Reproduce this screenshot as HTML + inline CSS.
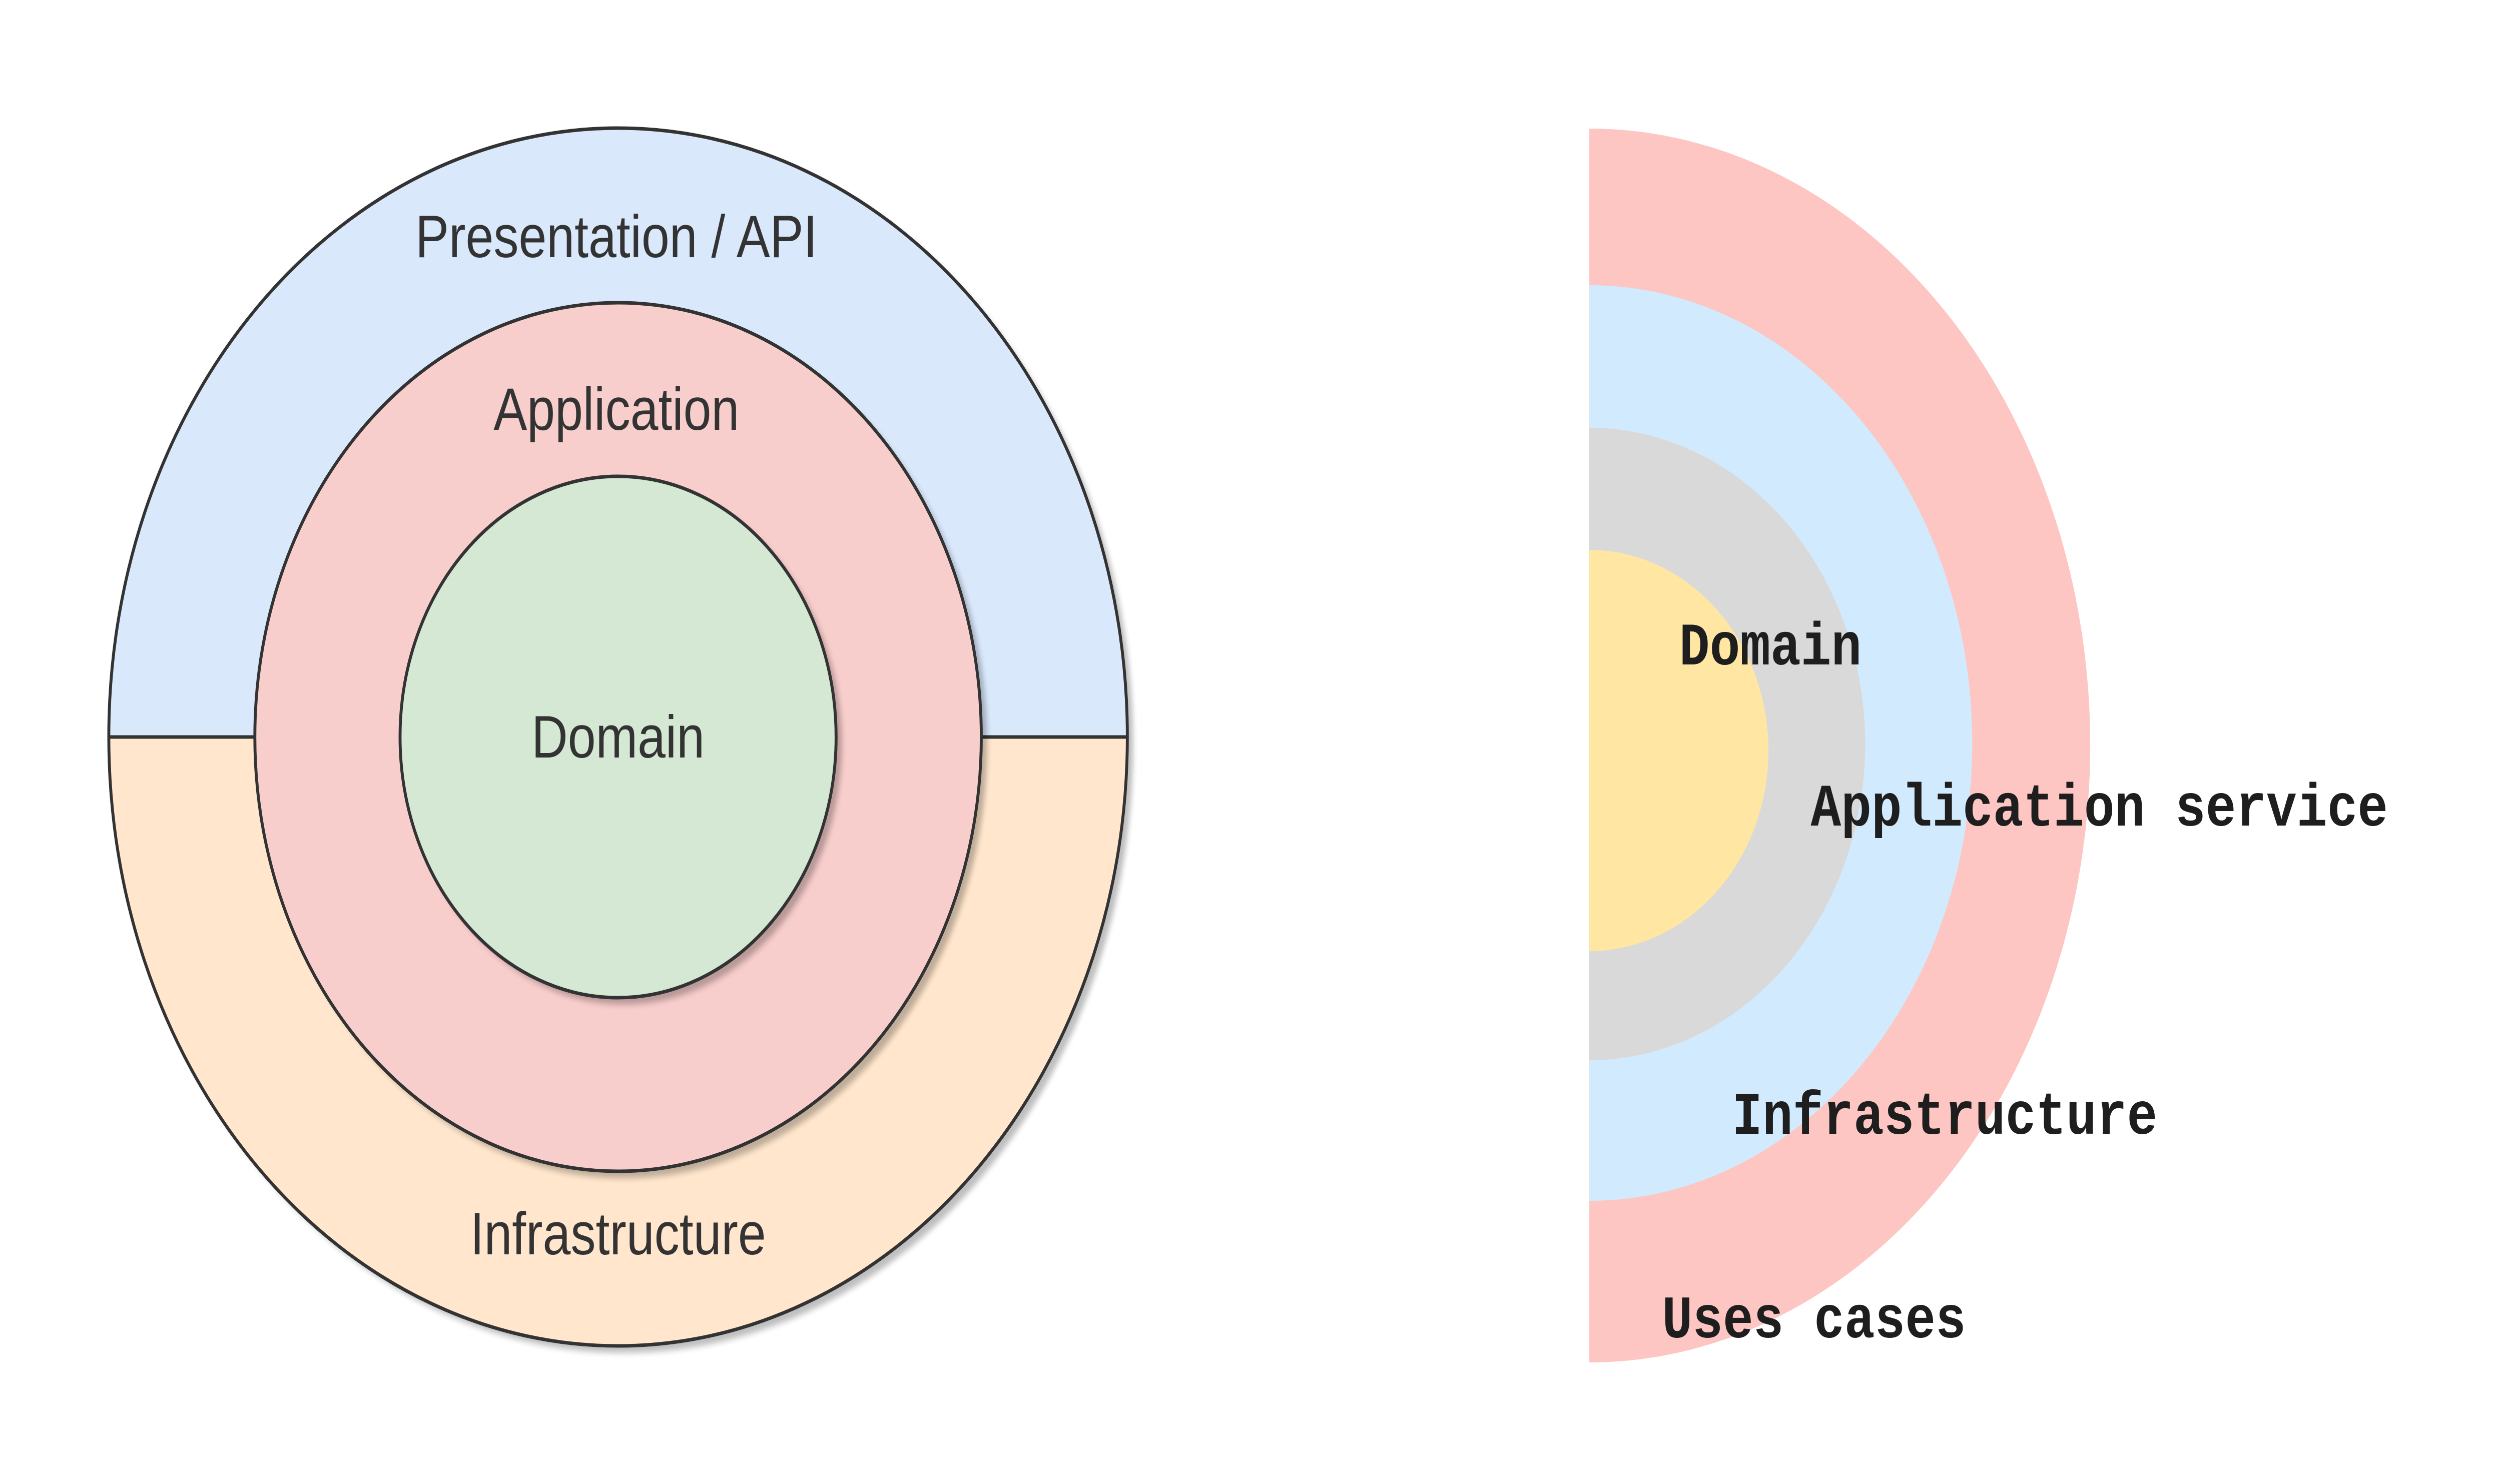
<!DOCTYPE html>
<html><head><meta charset="utf-8"><style>
html,body{margin:0;padding:0;background:#fff;width:100%;height:100%;overflow:hidden;}
svg{display:block;width:100vw;height:100vh;}
</style></head><body>
<svg viewBox="0 0 5979 2966" preserveAspectRatio="none" xmlns="http://www.w3.org/2000/svg">
<defs>
<filter id="sh" x="-10%" y="-10%" width="130%" height="130%"><feGaussianBlur stdDeviation="6"/></filter>
<clipPath id="rc"><rect x="3798" y="0" width="2200" height="2966"/></clipPath>
</defs>
<rect width="5979" height="2966" fill="#fff"/>
<circle cx="1491" cy="1487" r="1217" fill="#000" opacity="0.25" filter="url(#sh)"/>
<circle cx="1477" cy="1473" r="1217" fill="#ffe6cc"/>
<path d="M260 1473 A1217 1217 0 0 1 2694 1473 Z" fill="#dae8fc"/>
<circle cx="1477" cy="1473" r="1217" fill="none" stroke="#333" stroke-width="7"/>
<line x1="260" y1="1473" x2="2694" y2="1473" stroke="#333" stroke-width="7"/>
<circle cx="1491" cy="1487" r="868" fill="#000" opacity="0.25" filter="url(#sh)"/>
<circle cx="1477" cy="1473" r="868" fill="#f8cecc" stroke="#333" stroke-width="7"/>
<circle cx="1491" cy="1487" r="521" fill="#000" opacity="0.25" filter="url(#sh)"/>
<circle cx="1477" cy="1473" r="521" fill="#d5e8d4" stroke="#333" stroke-width="7"/>
<g font-family="'Liberation Sans', Arial, sans-serif" font-size="120" fill="#333" text-anchor="middle">
<text x="1473" y="514">Presentation / API</text>
<text x="1473" y="859">Application</text>
<text x="1477" y="1514">Domain</text>
<text x="1477" y="2507">Infrastructure</text>
</g>
<g clip-path="url(#rc)">
<ellipse cx="3798" cy="1490" rx="1197" ry="1233" fill="#fec6c2"/>
<ellipse cx="3798" cy="1485" rx="915" ry="915" fill="#d1eafd"/>
<ellipse cx="3798" cy="1487" rx="659" ry="632" fill="#d9d9d9"/>
<ellipse cx="3798" cy="1500" rx="428" ry="401" fill="#ffe6a3"/>
</g>
<g font-family="'Liberation Mono', 'DejaVu Sans Mono', monospace" font-size="121" font-weight="bold" fill="#1e1e1e">
<text x="4013" y="1328">Domain</text>
<text x="4327" y="1650">Application service</text>
<text x="4139" y="2266">Infrastructure</text>
<text x="3972" y="2673">Uses cases</text>
</g>
</svg>
</body></html>
